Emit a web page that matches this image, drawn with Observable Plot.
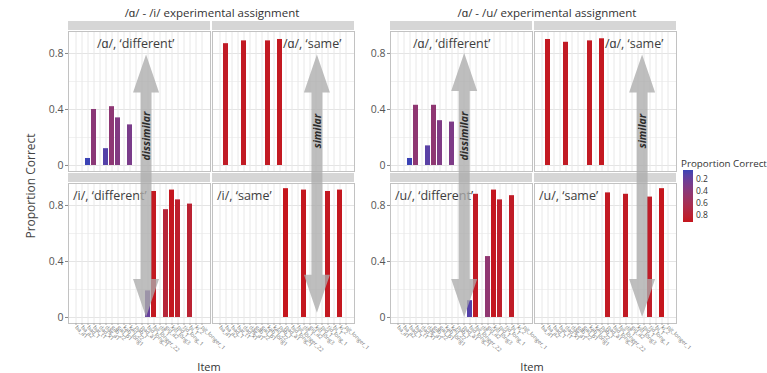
<!DOCTYPE html>
<html><head><meta charset="utf-8">
<script src="https://cdn.jsdelivr.net/npm/d3@7"></script>
<script src="https://cdn.jsdelivr.net/npm/@observablehq/plot@0.6"></script>
<style>
body{margin:0;background:#fff;}
#fig{position:relative;width:767px;height:373px;overflow:hidden;font-family:"Open Sans",sans-serif;}
#fig svg{position:absolute;top:0;}
</style></head><body><div id="fig"></div>
<script>
// ---------- data ----------
const items = ["ba_a1","ba_a2","bad_1","bat_t1","dad_x1","dag_a1","gab_22","gad_b1","kab_long1","kad_22","pab_1","pad_a1",
  "bid_long_1","bit_longer_22","dit_1","gid_a2","kid_long3","pid_1","tid_long_1","bi_1","ki_2","pit_longer_1"];
const cols = ["different", "same"];
const titles = ["/ɑ/ - /i/ experimental assignment", "/ɑ/ - /u/ experimental assignment"];
const rowsB1 = ["/ɑ/", "/i/"];
const rowsB2 = ["/ɑ/", "/u/"];
// item positions (1-based) per facet
const diffTopItems = [3, 4, 6, 7, 8, 10];
const sameTopItems = [2, 5, 9, 11];
const diffBottomItems = [13, 14, 16, 17, 18, 20];
const sameBottomItems = [12, 15, 19, 21];
// proportion correct, block 1 (/ɑ/ - /i/)
const b1TopDiff = [0.05, 0.40, 0.12, 0.42, 0.34, 0.29];
const b1TopSame = [0.87, 0.89, 0.89, 0.90];
const b1BotDiff = [0.19, 0.90, 0.77, 0.91, 0.84, 0.81];
const b1BotSame = [0.92, 0.91, 0.90, 0.91];
// block 2 (/ɑ/ - /u/)
const b2TopDiff = [0.05, 0.43, 0.14, 0.43, 0.32, 0.31];
const b2TopSame = [0.90, 0.88, 0.89, 0.905];
const b2BotDiff = [0.12, 0.88, 0.435, 0.91, 0.84, 0.87];
const b2BotSame = [0.89, 0.88, 0.86, 0.92];
// facet annotation labels: [row index, col, text, item]
const b1Labels = [[0, "different", "/ɑ/, ‘different’", 5], [0, "same", "/ɑ/, ‘same’", 12],
                  [1, "different", "/i/, ‘different’", 1], [1, "same", "/i/, ‘same’", 1]];
const b2Labels = [[0, "different", "/ɑ/, ‘different’", 4], [0, "same", "/ɑ/, ‘same’", 12],
                  [1, "different", "/u/, ‘different’", 1], [1, "same", "/u/, ‘same’", 1]];
const arrowWords = ["dissimilar", "similar"];
const legendTitle = "Proportion Correct";
const legendTicks = [0.2, 0.4, 0.6, 0.8];
const yTicks = [0, 0.4, 0.8];

// ---------- style ----------
const low = "#3b43b5", high = "#c5161d";
const colorDomain = [0.05, 0.92];
const yDomain = [-0.043, 0.957];
const FONT = "'Open Sans', sans-serif";

function rowsFor(rows, sets) {
  const out = [];
  for (const [r, c, idx, vals] of sets)
    idx.forEach((it, k) => out.push({row: rows[r], col: c, item: items[it - 1], value: vals[k]}));
  return out;
}
const data1 = rowsFor(rowsB1, [[0, "different", diffTopItems, b1TopDiff], [0, "same", sameTopItems, b1TopSame],
                               [1, "different", diffBottomItems, b1BotDiff], [1, "same", sameBottomItems, b1BotSame]]);
const data2 = rowsFor(rowsB2, [[0, "different", diffTopItems, b2TopDiff], [0, "same", sameTopItems, b2TopSame],
                               [1, "different", diffBottomItems, b2BotDiff], [1, "same", sameBottomItems, b2BotSame]]);

function blockPlot(data, rows, labels, width, marginLeft, marginRight) {
  const lab = labels.map(([r, c, t, it]) => ({row: rows[r], col: c, text: t, item: items[it - 1]}));
  return Plot.plot({
    width, height: 373,
    marginLeft, marginRight, marginTop: 31, marginBottom: 50,
    style: {background: "transparent", fontFamily: FONT, overflow: "visible"},
    fx: {domain: cols, paddingInner: 2 / 144, paddingOuter: 0, axis: null, label: null},
    fy: {domain: rows, paddingInner: 12 / 152, paddingOuter: 0, axis: null, label: null},
    x: {domain: items, paddingInner: 0.1, paddingOuter: 0.15, label: null},
    y: {domain: yDomain, label: null},
    color: {type: "linear", domain: colorDomain, range: [low, high], interpolate: "lab"},
    marks: [
      Plot.gridY([0.2, 0.6], {stroke: "#f1f1f1", strokeOpacity: 1}),
      Plot.gridY(yTicks, {stroke: "#e4e4e4", strokeOpacity: 1}),
      Plot.gridX(items, {stroke: "#e8e8e8", strokeOpacity: 1}),
      Plot.barY(data, {x: "item", y: "value", fx: "col", fy: "row", fill: "value"}),
      Plot.frame({stroke: "#c2c2c2"}),
      Plot.rect([0], {y1: yDomain[1] + 1 / 140, y2: yDomain[1] + 10 / 140, fill: "#d6d6d6"}),
      Plot.axisY(yTicks, {tickFormat: d => d === 0 ? "0" : String(d), tickSize: 3, tickPadding: 2,
        fontSize: 10.5, fill: "#555", stroke: "#888", label: null}),
      Plot.axisX({tickRotate: 45, fontSize: 5.6, tickSize: 2, tickPadding: 1, fill: "#777", stroke: "#aaa", label: null}),
      Plot.text(lab, {fx: "col", fy: "row", x: "item", y: 0.87, text: "text", textAnchor: "start",
        lineAnchor: "middle", fontSize: 12.5, fill: "#3d3d3d", dx: -3})
    ]
  });
}

const fig = document.getElementById("fig");
const p1 = blockPlot(data1, rowsB1, b1Labels, 362, 68, 8);
p1.style.left = "0px";
fig.appendChild(p1);
const p2 = blockPlot(data2, rowsB2, b2Labels, 405, 28, 91);
p2.style.left = "362px";
fig.appendChild(p2);

// ---------- overlay: titles, labels, arrows, legend ----------
const svg = d3.select(fig).append("svg").attr("width", 767).attr("height", 373)
  .style("left", "0px").style("font-family", FONT).style("pointer-events", "none");

const panelLeft = [68, 390];
const step = 142 / 22.2;
const facetX = (b, col, idx) => panelLeft[b] + (col === "same" ? 144 : 0) + (idx - 0.4) * step;
const rowY = (r, v) => 31 + r * 152 + (yDomain[1] - v) * 140;

svg.selectAll("text.title").data(titles).join("text")
  .attr("x", (d, i) => [212, 547][i]).attr("y", 17).attr("text-anchor", "middle")
  .attr("font-size", 11.5).attr("fill", "#333").text(d => d);
svg.selectAll("text.item").data([0, 1]).join("text")
  .attr("x", i => [209, 532][i]).attr("y", 371).attr("text-anchor", "middle")
  .attr("font-size", 11).attr("fill", "#333").text("Item");
svg.append("text").attr("transform", "translate(31,186) rotate(-90)").attr("text-anchor", "middle")
  .attr("dy", "0.35em").attr("font-size", 12).attr("fill", "#444").text("Proportion Correct");

// arrows: [block, col, item position, top value, bottom value, word]
const arrows = [[0, "different", 12.6, 0.79, 0.0, 0], [0, "same", 16.8, 0.79, 0.03, 1],
                [1, "different", 12.0, 0.80, 0.0, 0], [1, "same", 17.3, 0.79, 0.0, 1]];
const hw = 13, sw = 5.5, hl = 38;
for (const [b, col, idx, vt, vb, w] of arrows) {
  const cx = facetX(b, col, idx), yt = rowY(0, vt), yb = rowY(1, vb);
  const path = `M${cx},${yt}L${cx + hw},${yt + hl}L${cx + sw},${yt + hl}L${cx + sw},${yb - hl}L${cx + hw},${yb - hl}` +
    `L${cx},${yb}L${cx - hw},${yb - hl}L${cx - sw},${yb - hl}L${cx - sw},${yt + hl}L${cx - hw},${yt + hl}Z`;
  svg.append("path").attr("d", path).attr("fill", "#acacac").attr("fill-opacity", 0.78);
  const yc = w === 0 ? 136 : 131;
  svg.append("text").attr("transform", `translate(${cx},${yc}) rotate(-90)`).attr("text-anchor", "middle")
    .attr("dy", "0.36em").attr("font-size", 10.5).attr("font-weight", "bold").attr("font-style", "italic")
    .attr("fill", "#2b2b2b").text(arrowWords[w]);
}

// legend
const grad = svg.append("defs").append("linearGradient").attr("id", "lg").attr("x1", 0).attr("x2", 0).attr("y1", 0).attr("y2", 1);
const interp = d3.interpolateLab(low, high);
for (let k = 0; k <= 10; k++) grad.append("stop").attr("offset", k / 10).attr("stop-color", interp(k / 10));
const ly = d3.scaleLinear(colorDomain, [170, 222]);
svg.append("text").attr("x", 681).attr("y", 167).attr("font-size", 9.8).attr("fill", "#333").text(legendTitle);
svg.append("rect").attr("x", 683).attr("y", ly(colorDomain[0])).attr("width", 10)
  .attr("height", ly(colorDomain[1]) - ly(colorDomain[0])).attr("fill", "url(#lg)");
svg.selectAll("text.lt").data(legendTicks).join("text").attr("x", 696).attr("y", d => ly(d)).attr("dy", "0.35em")
  .attr("font-size", 8.5).attr("fill", "#333").text(d => d);
</script></body></html>
